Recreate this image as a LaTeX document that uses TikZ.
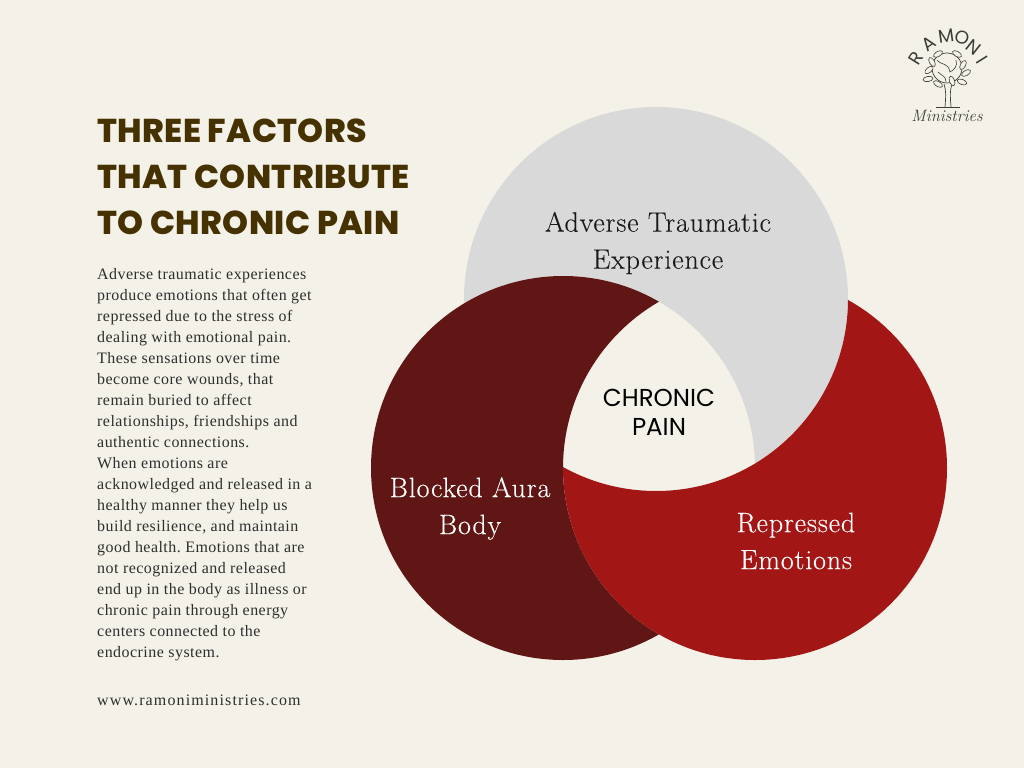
\documentclass[tikz,border=0pt]{standalone}
\usepackage{fontspec}
\newfontfamily\titlefont[LetterSpace=1.2]{Poppins ExtraBold}
\newfontfamily\chronicfont{Poppins}
\newfontfamily\bodyfont[LetterSpace=3]{Liberation Serif}
\newfontfamily\webfont[LetterSpace=7]{Liberation Serif}
\newfontfamily\vennfont[LetterSpace=3,FakeBold=0.12]{Latin Modern Roman}
\usepackage{xcolor}
\frenchspacing
\definecolor{bgc}{HTML}{F4F1E8}
\definecolor{grayc}{HTML}{D9D9D9}
\definecolor{darkc}{HTML}{611616}
\definecolor{redc}{HTML}{A31616}
\definecolor{titlec}{HTML}{453200}
\definecolor{bodyc}{HTML}{2E2E2E}
\definecolor{logoc}{HTML}{3C3C38}
\tikzset{
  titletext/.style={anchor=north west,inner sep=0pt,align=left,text=titlec,font=\titlefont\fontsize{33}{46}\selectfont},
  bodytext/.style={anchor=north west,inner sep=0pt,align=left,text=bodyc,font=\bodyfont\fontsize{15.95}{21}\selectfont\frenchspacing},
  webtext/.style={anchor=north west,inner sep=0pt,align=left,text=bodyc,font=\webfont\fontsize{16}{21}\selectfont\frenchspacing},
  venntext/.style={inner sep=0pt,align=center,font=\vennfont\fontsize{28}{37}\selectfont},
  letter/.style={inner sep=0pt,text=logoc,font=\chronicfont\fontsize{18.5}{19}\selectfont},
  leaf/.style={draw=logoc,line width=.6pt,fill=bgc},
}
\begin{document}
\begin{tikzpicture}[x=1pt,y=-1pt]
\useasboundingbox (0,0) rectangle (1024,768);
\fill[bgc] (0,0) rectangle (1024,768);
% Venn
\def\cG{(656,299) circle[radius=192pt]}
\def\cD{(563,468) circle[radius=192pt]}
\def\cR{(755,468) circle[radius=192pt]}
\def\bigrect{(0,0) rectangle (1024,768)}
\begin{scope}[even odd rule]
 \clip \bigrect \cD;
 \fill[grayc] \cG;
\end{scope}
\begin{scope}[even odd rule]
 \clip \bigrect \cR;
 \fill[darkc] \cD;
\end{scope}
\begin{scope}[even odd rule]
 \clip \bigrect \cG;
 \fill[redc] \cR;
\end{scope}
% Venn labels
\node[venntext,text=black!90] (adverse) at (658,243) {Adverse Traumatic\\Experience};
\node[venntext,text=white] (blocked) at (470,508.5) {Blocked Aura\\Body};
\node[venntext,text=white] (repressed) at (796,541) {Repressed\\Emotions};
\node[inner sep=0pt,align=center,text=black,font=\chronicfont\fontsize{24.5}{29}\selectfont] (chronic) at (659,412) {CHRONIC\\PAIN};
% Title
\node[titletext] (title) at (97,119) {THREE FACTORS\\THAT CONTRIBUTE\\TO CHRONIC PAIN};
% Body
\node[bodytext] (body) at (97,268) {Adverse traumatic experiences\\
produce emotions that often get\\
repressed due to the stress of\\
dealing with emotional pain.\\
These sensations over time\\
become core wounds, that\\
remain buried to affect\\
relationships, friendships and\\
authentic connections.\\
When emotions are\\
acknowledged and released in a\\
healthy manner they help us\\
build resilience, and maintain\\
good health. Emotions that are\\
not recognized and released\\
end up in the body as illness or\\
chronic pain through energy\\
centers connected to the\\
endocrine system.};
\node[webtext] (web) at (97,695) {www.ramoniministries.com};
% Logo
\node[letter,rotate=58] (l1) at (916,58) {R};
\node[letter,rotate=36] (l2) at (929,44) {A};
\node[letter,rotate=8] (l3) at (946,36) {M};
\node[letter,rotate=-18] (l4) at (962,38) {O};
\node[letter,rotate=-38] (l5) at (974,47) {N};
\node[letter,rotate=-58] (l6) at (982,60) {I};
\draw[logoc,line width=.7pt] (945,107) .. controls (946,95) and (946,90) .. (944,84);
\draw[logoc,line width=.7pt] (951,107) .. controls (950,95) and (950,90) .. (952,84);
\draw[logoc,line width=.6pt] (936,107) -- (960,107);
\draw[logoc,line width=.7pt] (947,68) circle[radius=15pt];
\draw[logoc,line width=.6pt] (937,60) .. controls (942,66) and (948,62) .. (950,72) .. controls (954,70) and (958,66) .. (956,60);
\draw[logoc,line width=.6pt] (938,72) .. controls (942,76) and (946,76) .. (946,82);
\foreach \lx/\ly/\la in {929/70/40,928/79/10,938/84/-30,952/81/-70,962/82/-20,966/73/30,963/65/60,932/62/120,957/54/-30,938/54/30}{
  \draw[leaf,rotate around={\la:(\lx,\ly)}] (\lx,\ly) ellipse[x radius=5pt,y radius=2.6pt];
}
\node[inner sep=0pt,text=logoc,font=\itshape\fontsize{16.5}{17}\selectfont\addfontfeature{LetterSpace=3}] (min) at (947,116) {Ministries};
\end{tikzpicture}
\end{document}
